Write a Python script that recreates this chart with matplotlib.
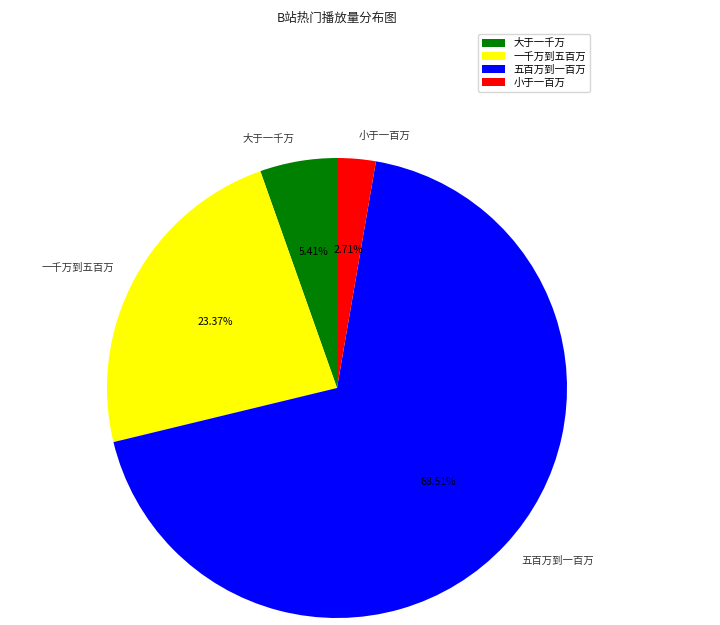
import matplotlib
matplotlib.use("Agg")
import matplotlib.pyplot as plt

plt.rcParams['font.family'] = ['Noto Sans CJK SC', 'DejaVu Sans']

labels = ['大于一千万', '一千万到五百万', '五百万到一百万', '小于一百万']
sizes = [5.41, 23.37, 68.51, 2.71]
colors = ['green', 'yellow', 'blue', 'red']
title = 'B站热门播放量分布图'

W, H = 720, 625
fig = plt.figure(figsize=(W / 100, H / 100), dpi=100)

cx, cy, r = 337, 388, 230
half = 1.25 * r
ax = fig.add_axes([(cx - half) / W, (H - cy - half) / H, 2 * half / W, 2 * half / H])
wedges, texts, autotexts = ax.pie(sizes, labels=labels, colors=colors, autopct='%.2f%%',
                                  startangle=90, counterclock=True,
                                  textprops={'fontsize': 7.5, 'color': '#333333'})
for t in autotexts:
    t.set_color('black')
    t.set_fontsize(7.5)
ax.set_xlim(-1.25, 1.25)
ax.set_ylim(-1.25, 1.25)
ax.set_aspect('equal')

fig.text(cx / W, 1 - 18 / H, title, ha='center', va='center', fontsize=9, color='#222222')

fig.legend(wedges, labels, loc='upper right', bbox_to_anchor=(590 / W, 1 - 34 / H),
           borderaxespad=0, fontsize=7.5, handlelength=2.2, handleheight=0.8,
           labelspacing=0.3, borderpad=0.4)

fig.savefig('out.png', dpi=100)
